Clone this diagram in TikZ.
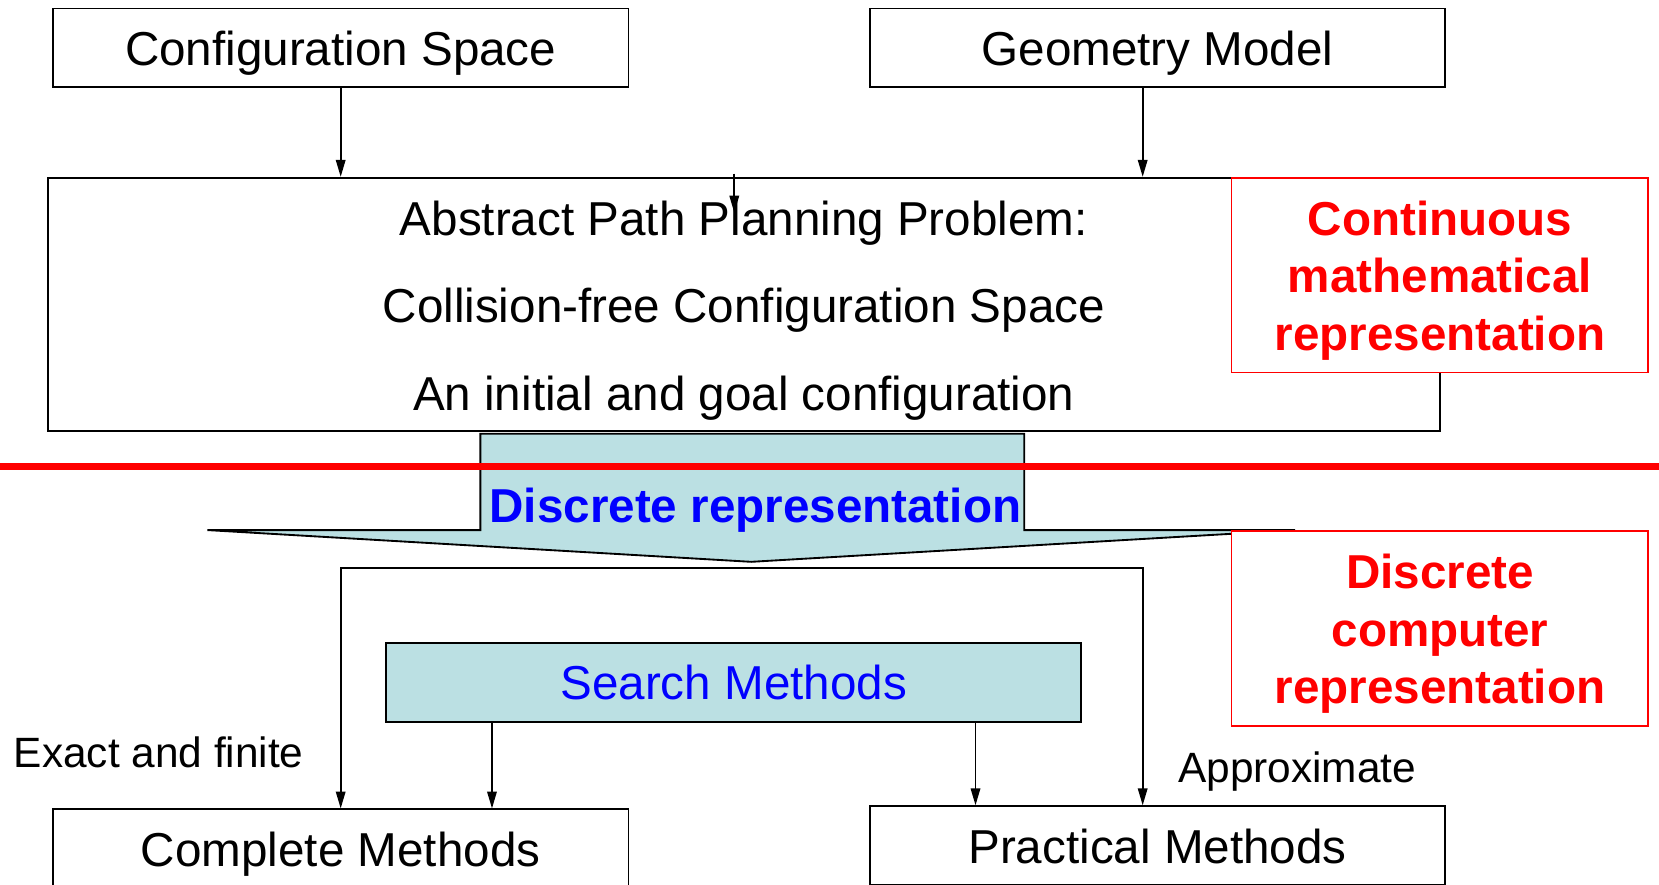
\documentclass[tikz,border=0pt]{standalone}
\usepackage{fontspec}
\setmainfont{Liberation Sans}
\usetikzlibrary{arrows.meta,calc}
\definecolor{paleteal}{RGB}{187,224,227}
\tikzset{
  plainbox/.style={draw,line width=0.5pt,fill=white,minimum width=54.4mm,minimum height=7.4mm,inner sep=0pt,text height=12.5pt,text depth=2.7pt,font=\fontsize{12.8}{15}\selectfont},
  redbox/.style={draw=red,line width=0.5pt,fill=white,minimum width=39.4mm,minimum height=18.4mm,inner sep=0pt},
  redtext/.style={text=red,align=center,inner sep=0pt,font=\fontsize{12.8}{15.5}\selectfont\bfseries},
  note/.style={inner sep=0pt,font=\fontsize{11.4}{13}\selectfont},
  arr/.style={-{Triangle[length=1.6mm,width=0.9mm]},line width=0.45pt}
}
\begin{document}
\begin{tikzpicture}[x=0.1mm,y=-0.1mm]
    \useasboundingbox (0,0) rectangle (1568,836);
    \fill[white] (0,0) rectangle (1568,836);
    \clip (0,0) rectangle (1568,836);
    \node[plainbox] (config) at (322,45) {Configuration Space};
    \node[plainbox] (geometry) at (1094,45) {Geometry Model};
    \node[draw,line width=0.5pt,minimum width=131.6mm,minimum height=23.9mm,inner sep=0pt] (abstract) at (703,287.5) {};
    \node[align=center,inner sep=0pt,font=\fontsize{12.8}{23.5}\selectfont] (problem) at ([yshift=-0.6mm]abstract.center)
        {Abstract Path Planning Problem:\\Collision-free Configuration Space\\An initial and goal configuration};
    \node[redbox] (continuous) at (1361,260) {};
    \node[redtext] (continuoustext) at ([yshift=-0.5mm]continuous.center) {Continuous\\mathematical\\representation};
    \draw[arr] (config.south) -- (config.south |- abstract.north);
    \draw[arr] ([xshift=-1.4mm]geometry.south) -- ([xshift=-1.4mm]geometry.south |- abstract.north);
    \coordinate (stub) at (694,164);
    \draw[arr] (stub) -- ++(0,37);
    \draw[line width=0.5pt,fill=paleteal] (454,410) -- (968,410) -- (968,501) -- (1224,501) -- (710,531) -- (196,501) -- (454,501) -- cycle;
    \node[inner sep=0pt,text=blue,font=\fontsize{12.8}{15}\selectfont\bfseries] (discrete) at (714,482) {Discrete representation};
    \draw[red,line width=1.7pt] (0,441) -- (1568,441);
    \node[redbox] (computer) at (1361,594) {};
    \node[redtext] (computertext) at ([yshift=-0.5mm]computer.center) {Discrete\\computer\\representation};
    \node[draw,line width=0.5pt,fill=paleteal,minimum width=65.7mm,minimum height=7.4mm,inner sep=0pt,text=blue,font=\fontsize{12.8}{15}\selectfont] (search) at (693.5,645) {Search Methods};
    \node[plainbox] (complete) at (322,802) {Complete Methods};
    \node[plainbox] (practical) at (1094,799) {Practical Methods};
    \coordinate (fork) at (710,537);
    \draw[arr] (fork) -| (complete.north);
    \draw[arr] (fork) -| ([xshift=-1.4mm]practical.north);
    \coordinate (s1) at (465,682);
    \coordinate (s2) at (922,682);
    \draw[arr] (s1) -- (s1 |- complete.north);
    \draw[arr] (s2) -- (s2 |- practical.north);
    \node[note] (exact) at (150,711) {Exact and finite};
    \node[note] (approx) at (1226,729) {Approximate};
\end{tikzpicture}
\end{document}
